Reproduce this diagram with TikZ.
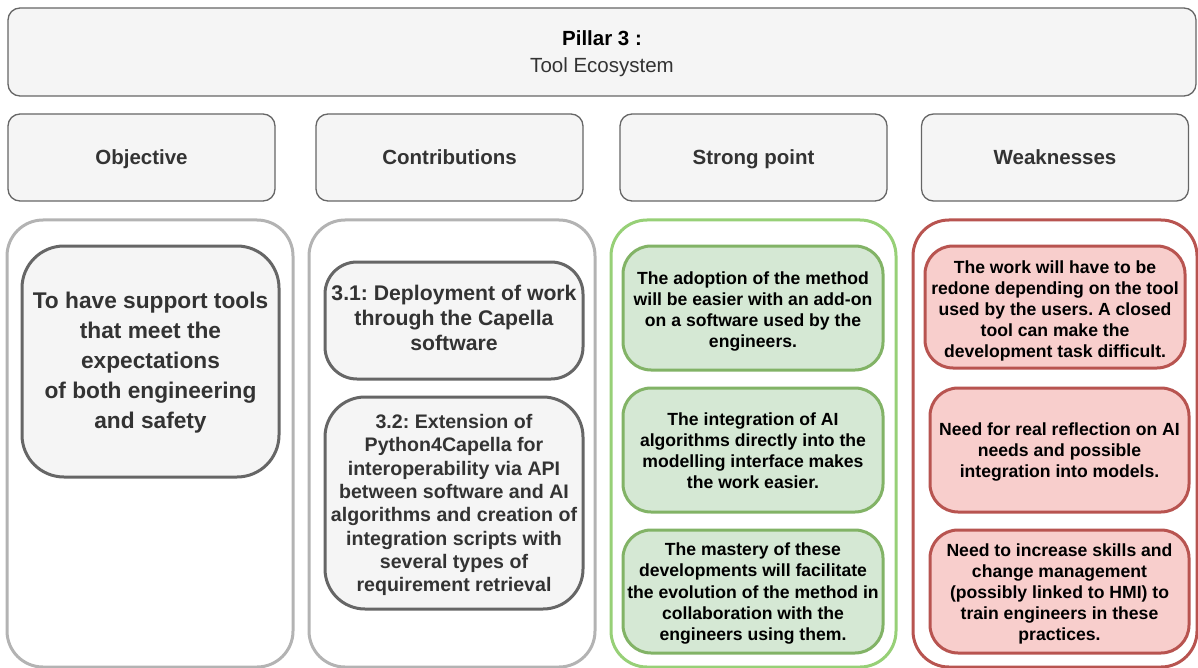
\documentclass[tikz,border=0pt]{standalone}
\usepackage{fontspec}
\setmainfont{Liberation Sans}
\frenchspacing
\definecolor{boxfill}{HTML}{F5F5F5}
\definecolor{boxline}{HTML}{666666}
\definecolor{boxtext}{HTML}{333333}
\definecolor{contgray}{HTML}{B3B3B3}
\definecolor{contgreen}{HTML}{97D077}
\definecolor{contred}{HTML}{B85450}
\definecolor{greenfill}{HTML}{D5E8D4}
\definecolor{greenline}{HTML}{82B366}
\definecolor{redfill}{HTML}{F8CECC}
\definecolor{redline}{HTML}{B85450}
\tikzset{
  basebox/.style={draw, rectangle, align=center, inner sep=0pt},
  plaintext/.style={rectangle, align=center, inner sep=0pt},
  topbox/.style={basebox, fill=boxfill, draw=boxline, line width=1.3pt, rounded corners=12pt, text=boxtext},
  headbox/.style={topbox, minimum width=267, minimum height=87, text height=17pt, text depth=2pt, font=\bfseries\fontsize{20.5}{24}\selectfont},
  contbox/.style={basebox, fill=white, line width=3pt, rounded corners=36pt, minimum height=447},
  graybox/.style={basebox, fill=boxfill, draw=boxline, line width=3pt},
  graytext/.style={plaintext, text=boxtext},
  greenbox/.style={basebox, fill=greenfill, draw=greenline, line width=3pt, rounded corners=28pt, minimum width=260},
  redbox/.style={basebox, fill=redfill, draw=redline, line width=3pt, rounded corners=28pt, minimum width=259},
  cardtext/.style={plaintext, text=black, font=\bfseries\fontsize{17.6}{21.1}\selectfont}
}
\begin{document}
\begin{tikzpicture}[x=1pt,y=-1pt]
\useasboundingbox (0,0) rectangle (1198,668);
% title
\node[topbox, minimum width=1188, minimum height=88] (title) at (602,52) {};
\node[plaintext, text=black, font=\fontsize{20.5}{27}\selectfont] (titlet) at ([yshift=-1.5pt]title.center)
  {\textbf{Pillar 3 :}\\\textcolor{boxtext}{Tool Ecosystem}};
% headers
\node[headbox] (hobj) at (141.5,157.5) {Objective};
\node[headbox] (hcon) at (449.5,157.5) {Contributions};
\node[headbox] (hstr) at (753.5,157.5) {Strong point};
\node[headbox] (hwea) at (1055,157.5) {Weaknesses};
% containers
\node[contbox, draw=contgray, minimum width=286] (cobj) at (150,443.5) {};
\node[contbox, draw=contgray, minimum width=286] (ccon) at (452,443.5) {};
\node[contbox, draw=contgreen, minimum width=285] (cstr) at (753.5,443.5) {};
\node[contbox, draw=contred, minimum width=284] (cwea) at (1055,443.5) {};
% objective
\node[graybox, rounded corners=42pt, minimum width=257, minimum height=231] (obj) at (150.5,361.5) {};
\node[graytext, font=\bfseries\fontsize{22.7}{30}\selectfont] (objt) at ([yshift=-1pt]obj.center)
  {To have support tools\\that meet the\\expectations\\of both engineering\\and safety};
% contributions
\node[graybox, rounded corners=32pt, minimum width=258, minimum height=117] (c31) at (454,320.5) {};
\node[graytext, font=\bfseries\fontsize{21.2}{25}\selectfont] (c31t) at ([yshift=3pt]c31.center)
  {3.1: Deployment of work\\through the Capella\\software};
\node[graybox, rounded corners=40pt, minimum width=258, minimum height=212] (c32) at (454,503) {};
\node[graytext, font=\bfseries\fontsize{19.6}{23.3}\selectfont] (c32t) at ([yshift=-2pt]c32.center)
  {3.2: Extension of\\Python4Capella for\\interoperability via API\\between software and AI\\algorithms and creation of\\integration scripts with\\several types of\\requirement retrieval};
% strong points
\node[greenbox, minimum height=124] (s1) at (753,308) {};
\node[cardtext] (s1t) at ([yshift=-3.5pt]s1.center)
  {The adoption of the method\\will be easier with an add-on\\on a software used by the\\engineers.};
\node[greenbox, minimum height=124] (s2) at (753,450) {};
\node[cardtext] (s2t) at ([yshift=-1pt]s2.center)
  {The integration of AI\\algorithms directly into the\\modelling interface makes\\the work easier.};
\node[greenbox, minimum height=123] (s3) at (753,591.5) {};
\node[cardtext] (s3t) at ([yshift=-2pt]s3.center)
  {The mastery of these\\developments will facilitate\\the evolution of the method in\\collaboration with the\\engineers using them.};
% weaknesses
\node[redbox, minimum width=260, minimum height=122] (w1) at (1055,307) {};
\node[cardtext] (w1t) at ([yshift=-4pt]w1.center)
  {The work will have to be\\redone depending on the tool\\used by the users. A closed\\tool can make the\\development task difficult.};
\node[redbox, minimum height=124] (w2) at (1059.5,450) {};
\node[cardtext] (w2t) at ([yshift=-2pt]w2.center)
  {Need for real reflection on AI\\needs and possible\\integration into models.};
\node[redbox, minimum height=123] (w3) at (1059.5,591.5) {};
\node[cardtext] (w3t) at ([yshift=-2.5pt]w3.center)
  {Need to increase skills and\\change management\\(possibly linked to HMI) to\\train engineers in these\\practices.};
\end{tikzpicture}
\end{document}
